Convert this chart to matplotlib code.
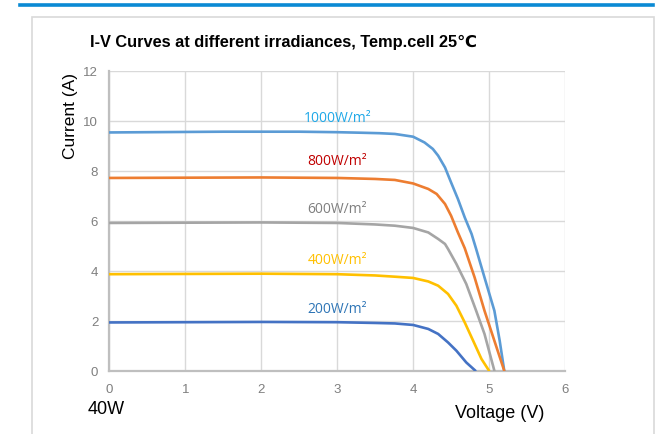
import matplotlib.pyplot as plt
from matplotlib.patches import Rectangle
from matplotlib.lines import Line2D

# I-V curves, one pair of lists per irradiance
v_1000 = [0, 0.5, 1, 1.5, 2, 2.5, 3, 3.3, 3.56, 3.76, 4.0, 4.15, 4.26, 4.33, 4.42, 4.5, 4.59,
          4.68, 4.77, 4.83, 4.94, 5.07, 5.14, 5.2]
i_1000 = [9.53, 9.54, 9.55, 9.56, 9.56, 9.56, 9.54, 9.52, 9.5, 9.47, 9.36, 9.13, 8.87, 8.6, 8.13, 7.53, 6.87,
          6.13, 5.47, 4.87, 3.73, 2.4, 1.2, 0.0]

v_800 = [0, 1, 2, 3, 3.5, 3.76, 4.0, 4.2, 4.31, 4.42, 4.5, 4.59, 4.68, 4.81, 4.94, 5.07, 5.2]
i_800 = [7.71, 7.72, 7.73, 7.71, 7.67, 7.63, 7.49, 7.27, 7.07, 6.67, 6.2, 5.53, 4.9, 3.73, 2.4, 1.2, 0.0]

v_600 = [0, 1, 2, 3, 3.5, 3.76, 4.0, 4.2, 4.33, 4.42, 4.46, 4.57, 4.7, 4.83, 4.94, 5.07]
i_600 = [5.91, 5.92, 5.93, 5.91, 5.85, 5.8, 5.71, 5.53, 5.27, 5.07, 4.87, 4.27, 3.47, 2.4, 1.47, 0.0]

v_400 = [0, 1, 2, 3, 3.5, 3.76, 4.0, 4.2, 4.33, 4.46, 4.57, 4.68, 4.81, 4.9, 5.0]
i_400 = [3.86, 3.87, 3.88, 3.86, 3.81, 3.76, 3.71, 3.57, 3.4, 3.07, 2.6, 1.93, 1.07, 0.47, 0.0]

v_200 = [0, 1, 2, 3, 3.5, 3.76, 4.0, 4.2, 4.33, 4.46, 4.57, 4.7, 4.82]
i_200 = [1.93, 1.94, 1.95, 1.94, 1.91, 1.89, 1.83, 1.67, 1.47, 1.13, 0.8, 0.33, 0.0]

labels = ["1000W/m²", "800W/m²", "600W/m²", "400W/m²", "200W/m²"]
x_ticks = [0, 1, 2, 3, 4, 5, 6]
y_ticks = [0, 2, 4, 6, 8, 10, 12]

series = [(v_1000, i_1000), (v_800, i_800), (v_600, i_600), (v_400, i_400), (v_200, i_200)]
line_colors = ["#5b9bd5", "#ed7d31", "#a5a5a5", "#ffc000", "#4472c4"]
text_colors = ["#1ea8e8", "#c00000", "#7f7f7f", "#ffc000", "#2e75b6"]
label_pos = [(3.0, 10.14), (3.0, 8.4), (3.0, 6.5), (3.0, 4.44), (3.0, 2.5)]

plt.rcParams['font.family'] = ['Liberation Sans', 'DejaVu Sans']

fig = plt.figure(figsize=(6.55, 4.35), dpi=100)

# card background and blue bar on top
fig.patches.append(Rectangle((32 / 655, -0.05), (654 - 32) / 655, 1 - 18 / 435 + 0.05,
                             transform=fig.transFigure, facecolor="white",
                             edgecolor="#d9d9d9", lw=1.2, zorder=-5))
fig.lines.append(Line2D([20 / 655, 653 / 655], [1 - 5.5 / 435, 1 - 5.5 / 435],
                        transform=fig.transFigure, color="#0a8ad4", lw=2.6))

ax = fig.add_axes([109.3 / 655, 63.3 / 435, (565 - 109.3) / 655, (371.7 - 71.7) / 435])
ax.set_facecolor("none")

for (v, i), c in zip(series, line_colors):
    ax.plot(v, i, color=c, lw=1.9, solid_capstyle='round', solid_joinstyle='round', zorder=3)

for txt, (x, y), c in zip(labels, label_pos, text_colors):
    ax.text(x, y, txt, color=c, fontsize=10, ha='center', va='center',
            family=['Open Sans', 'DejaVu Sans'], zorder=4)

ax.set_xlim(0, 6)
ax.set_ylim(0, 12)
ax.set_xticks(x_ticks)
ax.set_yticks(y_ticks)
ax.grid(True, color="#d9d9d9", lw=1.0, zorder=0)
ax.set_axisbelow(True)
for s in ['top', 'right']:
    ax.spines[s].set_visible(False)
for s in ['left', 'bottom']:
    ax.spines[s].set_color("#bfbfbf")
    ax.spines[s].set_linewidth(1.6)
ax.tick_params(length=0, labelcolor="#7f7f7f", labelsize=9.5)
ax.tick_params(axis='x', pad=9)
ax.tick_params(axis='y', pad=8)

fig.text(90 / 655, 1 - 42 / 435, "I-V Curves at different irradiances, Temp.cell 25℃",
         fontsize=11.8, fontweight='bold', va='center', ha='left')
fig.text(70 / 655, 1 - 116 / 435, "Current (A)", rotation=90, fontsize=12.5,
         ha='center', va='center')
fig.text(88 / 655, 1 - 410 / 435, "40W", fontsize=13, ha='left', va='center')
fig.text(500 / 655, 1 - 414 / 435, "Voltage (V)", fontsize=13, ha='center', va='center')

fig.savefig("out.png", dpi=100, facecolor="white")
